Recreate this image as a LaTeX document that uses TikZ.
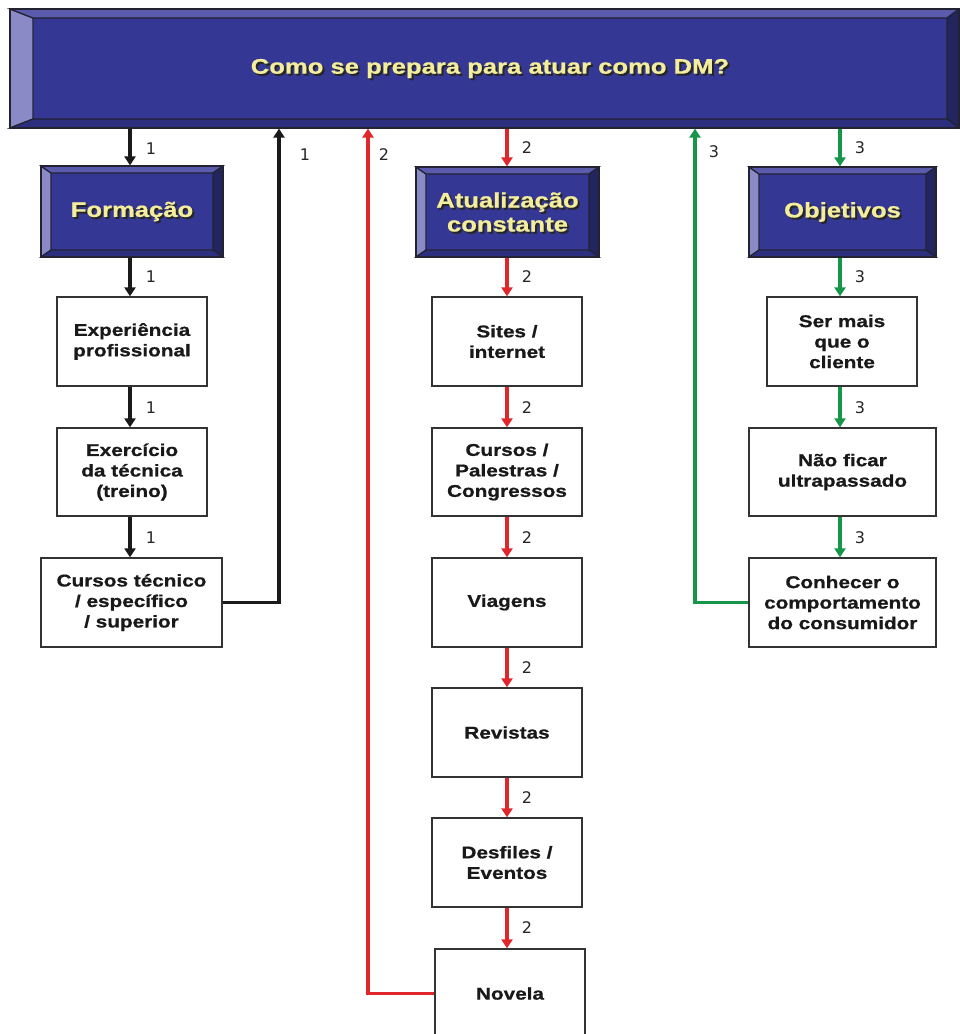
\documentclass[tikz,border=0pt]{standalone}
\usepackage{fontspec}
\setmainfont[FakeStretch=1.22, BoldFeatures={FakeStretch=1.22, FakeBold=0.8}]{Liberation Sans}
\newfontfamily\numfont{DejaVu Sans}
\usetikzlibrary{arrows.meta}

\definecolor{bvface}{HTML}{343894}
\definecolor{bvleft}{HTML}{8A8AC6}
\definecolor{bvtop}{HTML}{5B5BAE}
\definecolor{bvbottom}{HTML}{2C2F7E}
\definecolor{bvright}{HTML}{23255F}
\definecolor{bvedge}{HTML}{222233}
\definecolor{titletext}{HTML}{F4EE9C}
\definecolor{lnblack}{HTML}{1A1A1A}
\definecolor{lnred}{HTML}{E0262B}
\definecolor{lngreen}{HTML}{17964A}
\definecolor{boxedge}{HTML}{333333}

% bevelled title box: name, x1, y1, x2, y2, left bevel, right bevel, top/bottom bevel, text
% (the text is centred on the raised face, inside the bevels)
\newcommand\bevbox[9]{%
  \node[bvouter, minimum width={#4-#2}, minimum height={#5-#3}] (#1) at ({(#2+#4)/2},{(#3+#5)/2}) {};
  \filldraw[bvline, fill=bvleft]   (#2,#3) -- ({#2+#6},{#3+#8}) -- ({#2+#6},{#5-#8}) -- (#2,#5) -- cycle;
  \filldraw[bvline, fill=bvtop]    (#2,#3) -- (#4,#3) -- ({#4-#7},{#3+#8}) -- ({#2+#6},{#3+#8}) -- cycle;
  \filldraw[bvline, fill=bvright]  (#4,#3) -- (#4,#5) -- ({#4-#7},{#5-#8}) -- ({#4-#7},{#3+#8}) -- cycle;
  \filldraw[bvline, fill=bvbottom] (#2,#5) -- (#4,#5) -- ({#4-#7},{#5-#8}) -- ({#2+#6},{#5-#8}) -- cycle;
  \draw[bvline] (#2,#3) rectangle (#4,#5);
  \node[titleshadow] (#1-sh) at ({(#2+#6+#4-#7)/2+2},{(#3+#5)/2+2}) {#9};
  \node[titlelabel]  (#1-tx) at ({(#2+#6+#4-#7)/2},{(#3+#5)/2}) {#9};
}

\tikzset{
  bvouter/.style={rectangle, fill=bvface, draw=bvedge, line width=1.2pt, inner sep=0pt},
  bvline/.style={draw=bvedge, line width=1.2pt, line join=miter},
  titlelabel/.style={text=titletext, align=center, font=\bfseries\fontsize{21}{24}\selectfont},
  titleshadow/.style={text=black!85, align=center, font=\bfseries\fontsize{21}{24}\selectfont},
  wbox/.style={rectangle, draw=boxedge, line width=1.3pt, fill=white, align=center,
    inner sep=0pt, text=black!90, font=\bfseries\fontsize{17}{20.5}\selectfont},
  flow/.style={line width=3.6pt, -{Triangle[width=11pt,length=9pt]}},
  back/.style={line width=3.6pt, line join=miter, -{Triangle[width=11pt,length=9pt]}},
  num/.style={font=\numfont\fontsize{16}{16}\selectfont, text=black!85, inner sep=0pt},
}

\begin{document}
\begin{tikzpicture}[x=1pt, y=-1pt]
\useasboundingbox (0,0) rectangle (960,1034);
\clip (0,0) rectangle (960,1034);

% header and column heads
\bevbox{hdr}{10}{9}{959}{128}{23}{12}{9}{Como se prepara para atuar como DM?}
\bevbox{form}{41}{166}{223}{257}{10}{10}{7}{Formação}
\bevbox{atual}{416}{167}{599}{257}{10}{10}{7}{Atualização\\constante}
\bevbox{obj}{749}{167}{936}{257}{10}{10}{7}{Objetivos}

% column 1
\node[wbox, minimum width=150, minimum height=89] (exp)  at (132,341.5) {Experiência\\profissional};
\node[wbox, minimum width=150, minimum height=88] (exer) at (132,472)   {Exercício\\da técnica\\(treino)};
\node[wbox, minimum width=181, minimum height=89] (curt) at (131.5,602.5) {Cursos técnico\\/ específico\\/ superior};

% column 2
\node[wbox, minimum width=150, minimum height=89] (site) at (507,341.5) {Sites /\\internet};
\node[wbox, minimum width=150, minimum height=88] (curp) at (507,472)   {Cursos /\\Palestras /\\Congressos};
\node[wbox, minimum width=150, minimum height=89] (viag) at (507,602.5) {Viagens};
\node[wbox, minimum width=150, minimum height=89] (rev)  at (507,732.5) {Revistas};
\node[wbox, minimum width=150, minimum height=89] (desf) at (507,862.5) {Desfiles /\\Eventos};
\node[wbox, minimum width=150, minimum height=89] (nov)  at (510,993.5) {Novela};

% column 3
\node[wbox, minimum width=150, minimum height=89] (ser)  at (842,341.5) {Ser mais\\que o\\cliente};
\node[wbox, minimum width=187, minimum height=88] (nao)  at (842.5,472)  {Não ficar\\ultrapassado};
\node[wbox, minimum width=187, minimum height=89] (conh) at (842.5,602.5) {Conhecer o\\comportamento\\do consumidor};

% column x positions for the flow lines
\coordinate (c1) at (130,0);
\coordinate (c2) at (507,0);
\coordinate (c3) at (840,0);
\coordinate (r1) at (279,0);
\coordinate (r2) at (368,0);
\coordinate (r3) at (695,0);

% black flow
\draw[flow, lnblack] (c1 |- hdr.south)  -- (c1 |- form.north);
\draw[flow, lnblack] (c1 |- form.south) -- (c1 |- exp.north);
\draw[flow, lnblack] (c1 |- exp.south)  -- (c1 |- exer.north);
\draw[flow, lnblack] (c1 |- exer.south) -- (c1 |- curt.north);
\draw[back, lnblack] (curt.east) -| (r1 |- hdr.south);

% red flow
\draw[flow, lnred] (c2 |- hdr.south)   -- (c2 |- atual.north);
\draw[flow, lnred] (c2 |- atual.south) -- (c2 |- site.north);
\draw[flow, lnred] (c2 |- site.south)  -- (c2 |- curp.north);
\draw[flow, lnred] (c2 |- curp.south)  -- (c2 |- viag.north);
\draw[flow, lnred] (c2 |- viag.south)  -- (c2 |- rev.north);
\draw[flow, lnred] (c2 |- rev.south)   -- (c2 |- desf.north);
\draw[flow, lnred] (c2 |- desf.south)  -- (c2 |- nov.north);
\draw[back, lnred] (nov.west) -| (r2 |- hdr.south);

% green flow
\draw[flow, lngreen] (c3 |- hdr.south) -- (c3 |- obj.north);
\draw[flow, lngreen] (c3 |- obj.south) -- (c3 |- ser.north);
\draw[flow, lngreen] (c3 |- ser.south) -- (c3 |- nao.north);
\draw[flow, lngreen] (c3 |- nao.south) -- (c3 |- conh.north);
\draw[back, lngreen] (conh.west) -| (r3 |- hdr.south);

% sequence numbers
\node[num] (n1a) at (151,149) {1};
\node[num] (n1b) at (151,277) {1};
\node[num] (n1c) at (151,408) {1};
\node[num] (n1d) at (151,538) {1};
\node[num] (n1e) at (305,155) {1};
\node[num] (n2r) at (384,155) {2};
\node[num] (n2a) at (527,148) {2};
\node[num] (n2b) at (527,277) {2};
\node[num] (n2c) at (527,408) {2};
\node[num] (n2d) at (527,538) {2};
\node[num] (n2e) at (527,668) {2};
\node[num] (n2f) at (527,798) {2};
\node[num] (n2g) at (527,928) {2};
\node[num] (n3r) at (714,152) {3};
\node[num] (n3a) at (860,148) {3};
\node[num] (n3b) at (860,277) {3};
\node[num] (n3c) at (860,408) {3};
\node[num] (n3d) at (860,538) {3};
\end{tikzpicture}
\end{document}
